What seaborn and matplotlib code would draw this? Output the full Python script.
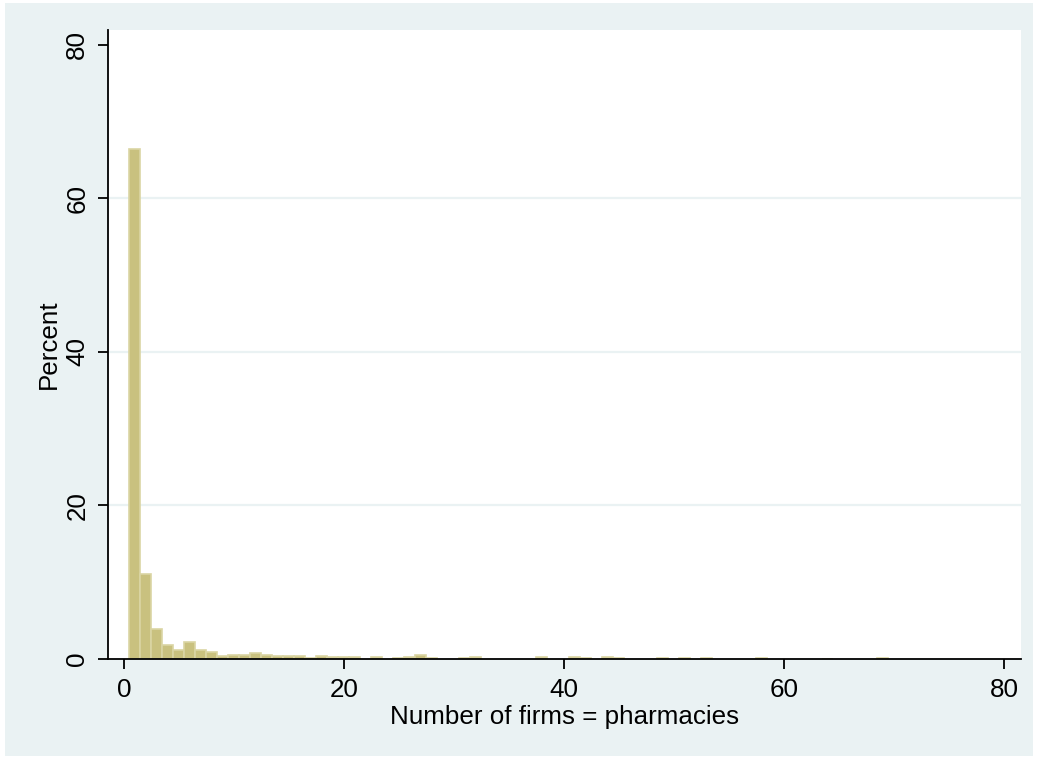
import matplotlib
matplotlib.use("Agg")
import matplotlib.pyplot as plt
from matplotlib.patches import Rectangle
import seaborn as sns
import pandas as pd

# number of firms (pharmacies) per market and share of markets, in percent
firms = [1, 2, 3, 4, 5, 6, 7, 8, 9, 10, 11, 12, 13, 14, 15, 16, 17, 18, 19, 20,
         21, 23, 25, 26, 27, 28, 31, 32, 38, 41, 42, 44, 45, 49, 51, 53, 58, 64, 69]
percent = [66.4, 11.1, 3.9, 1.8, 1.15, 2.2, 1.15, 0.9, 0.35, 0.5, 0.5, 0.75, 0.5, 0.35, 0.35, 0.35,
           0.1, 0.35, 0.2, 0.2, 0.2, 0.2, 0.1, 0.2, 0.5, 0.1, 0.1, 0.2, 0.2, 0.2, 0.1, 0.2, 0.1,
           0.1, 0.1, 0.1, 0.1, 0.05, 0.1]

df = pd.DataFrame({"firms": firms, "percent": percent})

sns.set_style("white")
plt.rcParams["font.family"] = ["Liberation Sans", "DejaVu Sans"]
plt.rcParams["text.color"] = "black"
plt.rcParams["axes.labelcolor"] = "black"
plt.rcParams["xtick.color"] = "black"
plt.rcParams["ytick.color"] = "black"

W, H = 1038, 759
fig = plt.figure(figsize=(W / 100, H / 100), dpi=100)
fig.patch.set_facecolor("white")
bg = Rectangle((5 / W, 3 / H), 1028 / W, 753 / H, transform=fig.transFigure,
               facecolor="#EAF2F3", edgecolor="none", zorder=-10)
fig.add_artist(bg)

ax = fig.add_axes([108 / W, 1 - 659 / H, (1021 - 108) / W, (659 - 30) / H])
ax.set_facecolor("white")

sns.histplot(data=df, x="firms", weights="percent", discrete=True, stat="count",
             color="#C9C17F", edgecolor="#DAD5A4", linewidth=1.2, alpha=1, ax=ax, zorder=3)
# empty bins would leave a coloured edge on the baseline
for p in list(ax.patches):
    if p.get_height() == 0:
        p.remove()

ax.set_xlim(-1.45, 81.55)
ax.set_ylim(0, 81.95)
ax.set_xticks([0, 20, 40, 60, 80])
ax.set_yticks([0, 20, 40, 60, 80])
for g in [20, 40, 60]:
    ax.axhline(g, color="#EAF2F3", linewidth=1.6, zorder=1)

for s in ["top", "right"]:
    ax.spines[s].set_visible(False)
for s in ["left", "bottom"]:
    ax.spines[s].set_color("black")
    ax.spines[s].set_linewidth(1.3)
    ax.spines[s].set_zorder(5)

ax.tick_params(axis="both", direction="out", length=7, width=1.3, color="black",
               labelcolor="black", labelsize=18.7, pad=6.5, left=True, bottom=True)
plt.setp(ax.get_yticklabels(), rotation=90, va="center")

ax.set_xlabel("Number of firms = pharmacies", fontsize=18.7, labelpad=2)
ax.set_ylabel("Percent", fontsize=18.7, labelpad=3)

fig.savefig("out.png", dpi=100, facecolor=fig.get_facecolor())
